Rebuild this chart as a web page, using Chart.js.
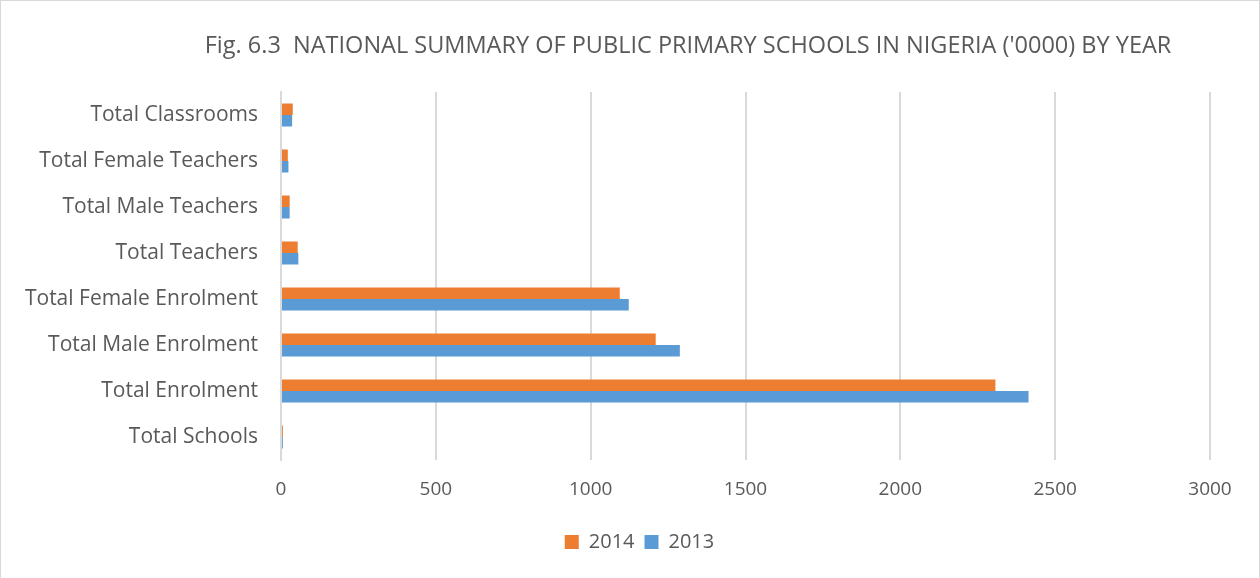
<!DOCTYPE html>
<html>
<head>
<meta charset="utf-8">
<script src="https://cdn.jsdelivr.net/npm/chart.js@4.4.1/dist/chart.umd.min.js"></script>
<style>
  html, body { margin: 0; padding: 0; background: #fff; }
  #wrap { position: relative; width: 1260px; height: 578px; box-sizing: border-box; border: 1px solid #D9D9D9; border-bottom: none; }
  canvas { display: block; }
</style>
</head>
<body>
<div id="wrap"><canvas id="chart" width="1258" height="577"></canvas></div>
<script>
const categories = ['Total Schools', 'Total Enrolment', 'Total Male Enrolment', 'Total Female Enrolment',
  'Total Teachers', 'Total Male Teachers', 'Total Female Teachers', 'Total Classrooms'];
const values2014 = [6, 2307, 1210, 1094, 54, 28, 22, 38];
const values2013 = [6, 2414, 1288, 1123, 56, 28, 24, 36];
const xTicks = [0, 500, 1000, 1500, 2000, 2500, 3000];
const titleText = "Fig. 6.3  NATIONAL SUMMARY OF PUBLIC PRIMARY SCHOOLS IN NIGERIA ('0000) BY YEAR";

const FONT = "'Open Sans', Lato, sans-serif";
const TEXT = '#595959';

const titlePlugin = {
  id: 'titleText',
  afterLayout(chart) {
    // legend sits a bit right of the canvas centre in the original
    if (chart.legend) { chart.legend.left += 34; chart.legend.right += 34; }
  },
  afterDraw(chart) {
    const ctx = chart.ctx;
    ctx.save();
    ctx.font = '23.5px ' + FONT;
    ctx.fillStyle = TEXT;
    ctx.textAlign = 'center';
    ctx.textBaseline = 'middle';
    ctx.fillText(titleText, 687, 45);
    ctx.restore();
  }
};

new Chart(document.getElementById('chart'), {
  type: 'bar',
  data: {
    labels: categories,
    datasets: [
      { label: '2014', data: values2014, backgroundColor: '#ED7D31', categoryPercentage: 0.5, barPercentage: 1 },
      { label: '2013', data: values2013, backgroundColor: '#5B9BD5', categoryPercentage: 0.5, barPercentage: 1 }
    ]
  },
  options: {
    indexAxis: 'y',
    responsive: false,
    animation: false,
    layout: { padding: { top: 91, left: 0, right: 49, bottom: 16 } },
    plugins: {
      legend: {
        position: 'bottom',
        labels: { color: TEXT, font: { family: FONT, size: 20 }, boxWidth: 14, boxHeight: 14, padding: 10 }
      },
      tooltip: { enabled: false }
    },
    scales: {
      x: {
        min: 0, max: 3000,
        afterBuildTicks: s => { s.ticks = xTicks.map(v => ({ value: v })); },
        afterFit: s => { s.height = 62; },
        grid: { color: '#D9D9D9', lineWidth: 2, drawTicks: false },
        border: { display: false },
        ticks: { color: TEXT, font: { family: FONT, size: 19 }, padding: 18, callback: v => String(v) }
      },
      y: {
        reverse: true,
        afterFit: s => { s.width = 280; },
        grid: { display: false, drawTicks: false },
        border: { display: true, color: '#D9D9D9', width: 2 },
        ticks: { color: TEXT, font: { family: FONT, size: 21 }, padding: 23 }
      }
    }
  },
  plugins: [titlePlugin]
});
</script>
</body>
</html>
